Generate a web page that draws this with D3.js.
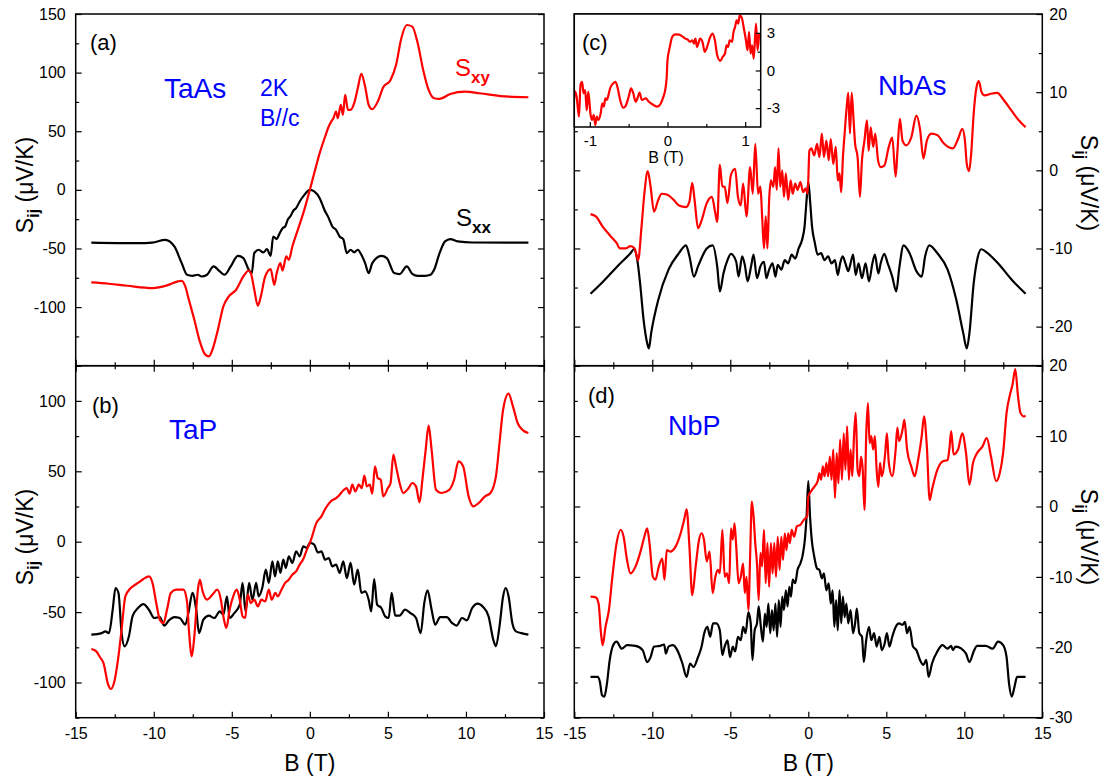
<!DOCTYPE html>
<html lang="en">
<head>
<meta charset="UTF-8" />
<title>Thermoelectric S_ij vs B</title>
<script src="https://cdn.jsdelivr.net/npm/d3@7"></script>
<style>
  body { margin: 0; background: #fff; }
  text { font-family: Arial, "Liberation Sans", sans-serif; }
</style>
</head>
<body>
<script>
// ---- data (B in T, S in uV/K) ----
var taasSxx = [[-14,-45],[-11,-45.5],[-10.1,-45],[-9.26,-42.6],[-8.68,-48.3],[-8.21,-62.5],[-7.87,-72.4],[-7.52,-73.3],[-7.17,-72.4],[-6.94,-73.9],[-6.59,-72.4],[-6.17,-65.3],[-5.77,-69.6],[-5.47,-72.4],[-5.07,-65.3],[-4.61,-56.3],[-4.26,-58.2],[-3.91,-68.2],[-3.72,-71],[-3.56,-54],[-3.28,-51.1],[-2.98,-53.4],[-2.75,-50.6],[-2.51,-56.3],[-2.35,-39.8],[-2.12,-42],[-1.98,-38.4],[-1.75,-32.7],[-1.58,-31.3],[-1.42,-25.6],[-1.23,-22.2],[-1.05,-17.6],[-0.88,-15.6],[-0.65,-9.9],[-0.35,-4.3],[0,0],[0.28,-1.4],[0.63,-7.1],[0.93,-17],[1.21,-24.1],[1.44,-31.3],[1.68,-34.1],[1.91,-39.8],[2.14,-42],[2.37,-54],[2.61,-51.1],[2.84,-53.4],[3.07,-51.1],[3.3,-55.4],[3.54,-62.5],[3.77,-71],[4,-62.5],[4.58,-56.3],[4.93,-58.2],[5.4,-71],[5.75,-71.9],[6.21,-65.3],[6.56,-71.6],[6.91,-73.3],[7.38,-73.3],[7.73,-72.4],[7.96,-68.2],[8.31,-54],[8.66,-44],[9,-42],[9.47,-44],[10.4,-44.9],[14,-45]];
var taasSxy = [[-14,-79],[-12.87,-80.1],[-11.71,-81.8],[-10.08,-83.8],[-9.15,-81.5],[-8.45,-78.1],[-8.21,-77.6],[-7.98,-82.4],[-7.75,-93.8],[-7.4,-110.8],[-7.05,-129.3],[-6.7,-140.6],[-6.47,-142],[-6.24,-136.4],[-5.89,-119.3],[-5.54,-99.4],[-5.19,-90.9],[-4.72,-85.2],[-4.26,-73.9],[-3.91,-68.8],[-3.75,-72.4],[-3.56,-85.2],[-3.33,-98.9],[-3.14,-90.9],[-2.86,-73.9],[-2.51,-67.6],[-2.28,-81],[-2.12,-71],[-1.89,-62.5],[-1.75,-68.8],[-1.51,-56.8],[-1.35,-59.7],[-1.12,-48.3],[-0.77,-34.1],[-0.42,-19.9],[0,0],[0.28,14.2],[0.63,31.3],[0.98,45.5],[1.21,54],[1.37,58.2],[1.51,61.1],[1.68,66.8],[1.79,61.1],[1.98,72.4],[2.12,63.9],[2.26,81],[2.44,68.2],[2.61,68.2],[2.84,73.9],[3.07,86.7],[3.3,98.9],[3.54,88.1],[3.77,72.4],[4,68.8],[4.35,75.3],[4.7,87.5],[5.17,93.8],[5.52,106.5],[5.86,129.3],[6.21,140.6],[6.56,139.2],[6.91,125],[7.26,102.3],[7.61,85.2],[7.96,78.1],[8.31,77.6],[9,81.8],[9.94,83.8],[10.87,82.4],[12.73,79.5],[14,79]];

var tapSxx = [[-14,-66],[-13.33,-64.9],[-13.1,-63.7],[-12.87,-64.9],[-12.63,-48.3],[-12.45,-32.9],[-12.26,-36.4],[-12.06,-64.9],[-11.87,-74.3],[-11.59,-67.2],[-11.36,-53],[-11.01,-47.1],[-10.66,-44.3],[-10.31,-48.3],[-9.96,-54.2],[-9.61,-53.5],[-9.33,-59.6],[-9.03,-55.9],[-8.68,-53.5],[-8.33,-54.2],[-7.98,-58.9],[-7.75,-48.8],[-7.52,-36.4],[-7.28,-48.3],[-7.1,-64.9],[-6.82,-55.4],[-6.47,-52.5],[-6.12,-54.2],[-5.77,-49.5],[-5.54,-51.8],[-5.31,-38.8],[-5.14,-54.2],[-4.84,-50.7],[-4.49,-44.7],[-4.31,-29.3],[-4.12,-49.5],[-3.89,-29.3],[-3.68,-41.2],[-3.44,-29.3],[-3.28,-38.8],[-3.05,-32.9],[-2.82,-19.9],[-2.63,-29.3],[-2.4,-14],[-2.23,-24.6],[-2.05,-14],[-1.89,-22.2],[-1.7,-12.8],[-1.54,-18.7],[-1.35,-10.4],[-1.12,-15.1],[-0.88,-6.9],[-0.65,-10.4],[-0.42,-3.3],[-0.19,-4.5],[0,-0.9],[0.28,-2.1],[0.51,-7.6],[0.74,-6.9],[0.98,-12.8],[1.21,-11.6],[1.44,-17.5],[1.68,-16.3],[1.91,-22.2],[2.14,-14],[2.37,-25.8],[2.61,-15.1],[2.84,-30.5],[3.07,-19.9],[3.3,-36.4],[3.54,-35.3],[3.77,-41.2],[3.93,-49.5],[4.12,-26.5],[4.31,-44.7],[4.58,-47.1],[4.82,-53],[5.05,-54.2],[5.24,-36.4],[5.47,-52.5],[5.75,-52.5],[6.1,-48.3],[6.45,-50.7],[6.8,-54.2],[7.1,-64.9],[7.33,-43.6],[7.54,-34.6],[7.8,-48.3],[8.03,-58.9],[8.35,-53.5],[8.77,-53.5],[9.12,-57.8],[9.4,-59.6],[9.75,-54.2],[10.05,-55.9],[10.4,-47.1],[10.75,-44],[11.1,-46.4],[11.45,-53],[11.75,-69.6],[11.92,-74.3],[12.15,-60.1],[12.38,-38.8],[12.55,-32.9],[12.73,-38.8],[12.97,-57.8],[13.2,-63.7],[13.55,-64.9],[14,-66]];
var tapSxy = [[-14,-76.2],[-13.68,-77.9],[-13.45,-81.9],[-13.22,-86.2],[-12.92,-101.5],[-12.75,-104.6],[-12.52,-99.1],[-12.29,-83.8],[-12.06,-62.5],[-11.82,-38.8],[-11.47,-32.9],[-11.01,-29.3],[-10.66,-26.5],[-10.31,-24.6],[-10.08,-29.3],[-9.84,-43.6],[-9.61,-55.4],[-9.38,-57.8],[-9.15,-48.3],[-8.91,-36.4],[-8.56,-34.1],[-8.1,-34.1],[-7.87,-42.4],[-7.75,-62.5],[-7.56,-81.4],[-7.4,-67.2],[-7.17,-34.1],[-7.05,-27],[-6.87,-35.3],[-6.59,-41.2],[-6.24,-37.6],[-5.93,-34.1],[-5.7,-41.2],[-5.54,-53],[-5.35,-61.3],[-5.14,-48.3],[-4.91,-38.8],[-4.68,-34.1],[-4.49,-41.2],[-4.31,-53],[-4.14,-54.2],[-3.98,-37.6],[-3.79,-43.6],[-3.56,-41.2],[-3.33,-45.9],[-3.1,-41.2],[-2.86,-42.4],[-2.63,-34.1],[-2.44,-41.2],[-2.21,-36.4],[-2.05,-38.8],[-1.82,-34.1],[-1.58,-29.3],[-1.35,-27],[-1.12,-23.4],[-0.88,-21.1],[-0.65,-16.3],[-0.42,-12.3],[-0.19,-5.7],[0,-0.9],[0.16,4.3],[0.4,12.8],[0.74,18],[0.98,23.2],[1.33,28.6],[1.68,31],[1.91,33.4],[2.14,36.4],[2.37,38.1],[2.54,34.1],[2.72,40.5],[2.91,35.7],[3.14,40.5],[3.33,38.1],[3.49,46.9],[3.65,39.3],[3.84,40.5],[4,34.1],[4.17,53.5],[4.35,45.2],[4.54,44],[4.7,32.2],[5,38.1],[5.17,41.7],[5.35,61.8],[5.52,53.5],[5.75,41.7],[5.98,34.6],[6.33,38.1],[6.56,41.7],[6.8,39.3],[7.03,27.9],[7.21,44],[7.42,65.3],[7.61,82.4],[7.8,65.3],[8.08,36.9],[8.42,34.6],[8.89,36.4],[9.24,44],[9.52,57],[9.82,53.5],[10.17,32.2],[10.47,25.1],[10.82,27.5],[11.22,32.2],[11.57,34.6],[11.92,46.4],[12.15,70.1],[12.38,93.7],[12.73,105.1],[13.01,96.1],[13.31,84.3],[13.66,79.1],[14,77.2]];

var nbasSxx = [[-13.96,-15.8],[-13.18,-14.3],[-12.29,-12.4],[-11.4,-10.6],[-11.18,-10.1],[-10.96,-11.5],[-10.78,-14.5],[-10.56,-19.1],[-10.33,-22.1],[-10.22,-22.8],[-10.07,-20.8],[-9.62,-16.6],[-8.96,-12.7],[-8.29,-10.6],[-7.84,-9.6],[-7.62,-11],[-7.33,-13.6],[-7.07,-12.3],[-6.51,-10],[-6.13,-9.6],[-5.84,-12.3],[-5.67,-15.5],[-5.44,-13.2],[-5.18,-11.5],[-4.96,-10.7],[-4.62,-11.7],[-4.47,-13.6],[-4.24,-11],[-4.07,-12.1],[-3.89,-14.2],[-3.67,-12.3],[-3.51,-10.8],[-3.29,-13.8],[-3.07,-12.3],[-2.84,-11.7],[-2.69,-13.8],[-2.51,-12.7],[-2.29,-11.9],[-2.11,-13.6],[-1.96,-12.1],[-1.73,-12.7],[-1.51,-11.5],[-1.29,-11.9],[-1.07,-10.8],[-0.84,-11.3],[-0.62,-10],[-0.4,-8.9],[-0.24,-7.2],[-0.11,-3.8],[0,-1.5],[0.11,-3.8],[0.24,-7.2],[0.42,-9.3],[0.6,-10.8],[0.82,-10.6],[1.04,-11.5],[1.27,-11],[1.49,-11.9],[1.71,-11.5],[1.89,-13.4],[2.04,-11.9],[2.2,-11],[2.38,-11.9],[2.56,-12.9],[2.71,-11.9],[2.87,-10.8],[3.04,-13.4],[3.22,-11.9],[3.44,-13.8],[3.67,-11.9],[3.89,-14.2],[4.11,-11.9],[4.27,-10.8],[4.49,-13.2],[4.64,-11.9],[4.87,-10.7],[5.09,-11.9],[5.38,-13.6],[5.64,-15.5],[5.82,-12.7],[6.11,-9.6],[6.49,-10.6],[6.93,-12.9],[7.27,-13.6],[7.49,-11],[7.76,-9.6],[8.27,-10.6],[8.93,-12.7],[9.49,-16.6],[9.93,-20.8],[10.16,-22.8],[10.33,-20.8],[10.6,-14.5],[10.82,-11.5],[11.09,-10.1],[11.49,-10.6],[12.16,-11.9],[13.04,-14],[13.93,-15.8]];
var nbasSxy = [[-13.96,-5.6],[-13.62,-5.9],[-13.18,-7.2],[-12.73,-8.3],[-12.29,-9.3],[-12.07,-10],[-11.73,-10],[-11.4,-9.7],[-11.13,-10],[-10.91,-11.5],[-10.69,-7.2],[-10.51,-3],[-10.29,-0.1],[-10.11,-2.1],[-9.89,-5.3],[-9.62,-3.8],[-9.4,-3],[-9.07,-3.1],[-8.62,-3.8],[-8.29,-4.5],[-7.84,-4.7],[-7.62,-4],[-7.44,-1.6],[-7.29,-3.8],[-7.07,-7.4],[-6.84,-6.4],[-6.51,-4.2],[-6.18,-3.4],[-5.96,-5.5],[-5.84,-6.6],[-5.67,0.7],[-5.51,-2.1],[-5.36,-2.1],[-5.18,-4.2],[-4.96,-0.6],[-4.69,0.2],[-4.51,-3.4],[-4.33,-4.5],[-4.18,-1.7],[-3.96,-5.9],[-3.73,0.4],[-3.56,-3],[-3.4,3.4],[-3.22,-3],[-3.07,-2.1],[-2.96,-5.9],[-2.84,-10],[-2.73,-5.9],[-2.62,-10],[-2.51,-3.8],[-2.4,-1.3],[-2.24,-2.1],[-2.13,0.4],[-2.02,-2.5],[-1.91,2.8],[-1.8,-2.1],[-1.67,0],[-1.56,-3.4],[-1.44,-0.4],[-1.29,-3.8],[-1.13,-1.3],[-1,-3],[-0.84,-1.7],[-0.69,-2.5],[-0.51,-1.5],[-0.33,-2.8],[-0.18,-2.3],[-0.04,-3],[0.07,2.5],[0.2,2.8],[0.38,1.9],[0.56,3.4],[0.71,1.7],[0.87,4.7],[1,1.7],[1.16,3.8],[1.31,1.3],[1.44,4],[1.6,0.8],[1.76,3],[1.89,-1.3],[2,-0.4],[2.11,-2.8],[2.22,1.7],[2.33,4.7],[2.44,7.6],[2.56,9.9],[2.67,4.7],[2.78,9.9],[2.89,6.8],[3,3.4],[3.16,1.7],[3.31,-3.4],[3.44,1.3],[3.6,3.8],[3.76,6.4],[3.87,2.5],[4,5.5],[4.16,3],[4.29,4.7],[4.47,1.3],[4.64,0.4],[4.87,0.6],[5.16,3],[5.38,4.2],[5.6,-0.8],[5.71,2.3],[5.87,6.6],[6.04,3.8],[6.27,3.2],[6.6,4.2],[6.93,7],[7.16,5.3],[7.38,1.5],[7.6,3.8],[7.89,4.7],[8.27,4.5],[8.71,3.4],[9.27,2.8],[9.6,4],[9.87,5.3],[10.04,3.8],[10.16,0.8],[10.31,-0.1],[10.44,2.1],[10.6,7.2],[10.78,10.6],[10.93,11.4],[11.11,10],[11.31,9.6],[11.71,9.8],[12.11,9.9],[12.49,9.1],[13.04,7.6],[13.49,6.4],[13.93,5.5]];
var nbasInset = [[-1.21,-2.75],[-1.19,-1.69],[-1.17,-2.09],[-1.14,-3.68],[-1.12,-1.16],[-1.1,-0.9],[-1.08,-1.83],[-1.06,-1.56],[-1.04,-3.15],[-1.02,-1.69],[-0.99,-3.54],[-0.97,-3.94],[-0.95,-3.54],[-0.93,-4.34],[-0.91,-3.68],[-0.89,-3.94],[-0.86,-3.41],[-0.84,-2.62],[-0.82,-2.88],[-0.8,-2.22],[-0.78,-2.35],[-0.76,-1.96],[-0.74,-1.43],[-0.7,-1.03],[-0.67,-0.9],[-0.64,-1.43],[-0.61,-2.35],[-0.57,-2.96],[-0.54,-2.83],[-0.5,-2.09],[-0.47,-1.43],[-0.44,-1.83],[-0.41,-2.49],[-0.38,-2.09],[-0.36,-1.77],[-0.33,-2.35],[-0.28,-2.22],[-0.24,-2.49],[-0.18,-2.75],[-0.13,-2.88],[-0.09,-2.67],[-0.06,-2.22],[-0.03,-1.56],[-0.01,-0.5],[0,0.82],[0.03,1.88],[0.06,2.67],[0.1,2.88],[0.15,2.86],[0.19,2.72],[0.23,2.54],[0.26,2.46],[0.29,2.28],[0.32,2.41],[0.34,2.14],[0.36,2.54],[0.38,1.88],[0.42,2.54],[0.45,2.28],[0.48,1.48],[0.51,1.88],[0.55,2.67],[0.58,2.94],[0.61,2.41],[0.64,1.22],[0.68,0.77],[0.71,1.08],[0.74,1.35],[0.76,2.01],[0.78,1.88],[0.8,2.41],[0.83,2.28],[0.85,3.07],[0.87,3.47],[0.89,3.99],[0.91,3.73],[0.93,4.39],[0.96,4.13],[0.98,3.47],[1.01,2.41],[1.03,1.61],[1.05,3.07],[1.07,1.35],[1.09,2.01],[1.11,0.95],[1.14,3.73],[1.16,1.61],[1.18,2.94]];

var nbpSxx = [[-13.96,-24.2],[-13.51,-24.2],[-13.36,-24.9],[-13.22,-26.8],[-13.07,-27],[-12.91,-25.2],[-12.73,-21.8],[-12.51,-19.7],[-12.29,-19.2],[-11.96,-20.2],[-11.62,-19.7],[-11.07,-19.8],[-10.62,-20.4],[-10.33,-22.1],[-10.11,-21.4],[-9.89,-19.9],[-9.51,-19.8],[-9.24,-19.6],[-9.13,-20.9],[-8.96,-19.9],[-8.69,-19.7],[-8.4,-20.4],[-8.07,-22.3],[-7.8,-24.2],[-7.58,-22.3],[-7.36,-22.8],[-7.07,-21.4],[-6.84,-19.9],[-6.67,-18],[-6.47,-17.1],[-6.29,-18.5],[-6.11,-16.6],[-5.89,-16.6],[-5.67,-17.6],[-5.51,-21.1],[-5.36,-19.9],[-5.18,-19],[-5.02,-21.4],[-4.84,-19.9],[-4.69,-20.6],[-4.51,-18.5],[-4.33,-19],[-4.18,-17.1],[-4.02,-18],[-3.84,-15],[-3.69,-16.6],[-3.58,-21.8],[-3.44,-17.6],[-3.29,-16.6],[-3.18,-14.2],[-3.04,-17.1],[-2.91,-19.2],[-2.78,-15.2],[-2.67,-17.1],[-2.56,-13.8],[-2.44,-18],[-2.33,-14.7],[-2.22,-17.6],[-2.11,-13.8],[-2,-18.5],[-1.89,-13.3],[-1.78,-17.1],[-1.67,-12.8],[-1.56,-14.7],[-1.44,-11.9],[-1.33,-14.2],[-1.22,-11.4],[-1.11,-12.8],[-1,-10.4],[-0.84,-10.9],[-0.69,-9],[-0.51,-8.1],[-0.36,-6.9],[-0.22,-4.7],[-0.11,-1.4],[0,3.6],[0.11,-1.4],[0.22,-4.7],[0.38,-7.1],[0.56,-8.8],[0.71,-9],[0.87,-10.2],[1,-9.5],[1.16,-11.9],[1.31,-10.9],[1.44,-13.8],[1.56,-11.9],[1.67,-17.1],[1.78,-13.3],[1.89,-17.6],[2,-11.9],[2.11,-16.6],[2.22,-12.8],[2.33,-15.7],[2.44,-13.8],[2.56,-16.6],[2.71,-14.7],[2.87,-18],[3,-16.6],[3.11,-14.5],[3.27,-18],[3.44,-18.5],[3.56,-22.1],[3.71,-19],[3.89,-17.1],[4.04,-19],[4.22,-18],[4.38,-19.9],[4.56,-18.5],[4.71,-20.4],[4.89,-19.5],[5.04,-18],[5.2,-19.9],[5.38,-18.5],[5.6,-17.1],[5.82,-16.6],[6.04,-16.8],[6.2,-16.4],[6.33,-18],[6.49,-17.1],[6.71,-19.9],[6.93,-20.4],[7.16,-21.8],[7.38,-22.5],[7.56,-21.8],[7.71,-24.2],[7.93,-22.3],[8.27,-20.6],[8.6,-19.7],[8.93,-20.2],[9.16,-19.8],[9.27,-20.4],[9.44,-19.9],[9.82,-20.2],[10.11,-20.9],[10.33,-22.1],[10.6,-20.6],[10.82,-19.8],[11.38,-19.8],[11.82,-20.2],[12.16,-19.2],[12.49,-19.7],[12.71,-21.4],[12.87,-25.2],[13.04,-27],[13.22,-25.6],[13.38,-24.2],[13.93,-24.2]];
var nbpSxy = [[-13.96,-12.8],[-13.62,-12.9],[-13.44,-13.8],[-13.29,-18],[-13.18,-19.7],[-13,-17.1],[-12.78,-14.7],[-12.56,-10],[-12.29,-5.2],[-12.02,-3.3],[-11.84,-4.3],[-11.62,-7.6],[-11.4,-9.5],[-11.07,-8.5],[-10.73,-6.2],[-10.51,-4.3],[-10.33,-3.1],[-10.18,-5.2],[-9.96,-10],[-9.8,-10.4],[-9.58,-8.5],[-9.36,-7.4],[-9.22,-10.4],[-9.07,-6.2],[-8.84,-6.4],[-8.51,-5.7],[-8.18,-3.8],[-7.96,-1.9],[-7.8,-0.4],[-7.62,-5.7],[-7.44,-12.6],[-7.22,-8.5],[-7,-4.7],[-6.84,-3.8],[-6.69,-4.7],[-6.51,-7.8],[-6.33,-6.4],[-6.13,-12.3],[-5.96,-10],[-5.8,-9],[-5.67,-9.5],[-5.51,-3.3],[-5.36,-10],[-5.22,-9.5],[-5.07,-10.9],[-4.96,-3.1],[-4.84,-4.7],[-4.73,-2.4],[-4.62,-5.7],[-4.47,-10.9],[-4.33,-10],[-4.18,-8.1],[-4.07,-12.3],[-3.96,-10],[-3.84,-14.7],[-3.73,-7.1],[-3.62,0.7],[-3.51,-1.4],[-3.4,-5.2],[-3.29,-8.1],[-3.18,-13.3],[-3.07,-6.6],[-2.96,-8.5],[-2.84,-3.3],[-2.73,-10.9],[-2.62,-5.2],[-2.51,-11.4],[-2.4,-5.2],[-2.29,-9.5],[-2.18,-5.2],[-2.07,-10],[-1.96,-4.3],[-1.84,-9],[-1.73,-4.3],[-1.62,-7.6],[-1.51,-3.8],[-1.4,-6.2],[-1.29,-3.8],[-1.18,-5.2],[-1.07,-3.3],[-0.91,-4.3],[-0.73,-2.8],[-0.51,-2.6],[-0.29,-1.9],[-0.07,-1.4],[0,1.4],[0.16,2.1],[0.38,2.8],[0.6,3.6],[0.71,4.7],[0.82,3.8],[0.93,5.7],[1.04,4.3],[1.16,6.2],[1.27,4.3],[1.38,7.1],[1.49,3.8],[1.6,8.1],[1.71,1.2],[1.82,7.6],[1.93,3.3],[2.04,9.5],[2.16,3.8],[2.27,10.4],[2.38,5.2],[2.49,11.4],[2.6,3.8],[2.71,8.1],[2.82,4.3],[2.93,10],[3.04,13.3],[3.16,5.2],[3.27,4.3],[3.38,7.1],[3.49,5.2],[3.6,-0.5],[3.71,10],[3.82,14.7],[3.93,9],[4.04,10],[4.16,8.1],[4.27,10],[4.38,5.2],[4.49,2.8],[4.6,6.2],[4.71,4.3],[4.93,7.6],[5.04,10.4],[5.16,6.2],[5.38,4.3],[5.6,8.1],[5.71,11.2],[5.82,9.3],[6.04,10.9],[6.16,12.3],[6.33,8.1],[6.6,5.7],[6.82,4.3],[7.04,6.6],[7.27,10],[7.42,12.8],[7.6,8.5],[7.78,0.9],[7.93,2.4],[8.27,5.2],[8.6,6.4],[8.93,6.6],[9.04,8.1],[9.16,10.7],[9.31,7.4],[9.6,8.1],[9.87,10.4],[10.11,7.6],[10.33,3.1],[10.56,6.2],[10.82,7.6],[11.16,8.5],[11.44,9.7],[11.71,7.1],[12.04,3.6],[12.27,4.7],[12.49,7.6],[12.71,13.3],[12.93,15.9],[13.09,17.3],[13.27,19.5],[13.44,15.7],[13.6,13.3],[13.82,12.8],[13.93,12.9]];

// ---- tick values ----
var xTicks = [-15, -10, -5, 0, 5, 10, 15];
var insetXTicks = [-1, 0, 1];
var insetYTicks = [-3, 0, 3];
var yTicksA = [-100, -50, 0, 50, 100, 150];
var yTicksB = [-100, -50, 0, 50, 100];
var yTicksC = [-20, -10, 0, 10, 20];
var yTicksD = [-30, -20, -10, 0, 10, 20];

var RED = "#ff0000", BLUE = "#0000ff";
var W = 1105, H = 779;
var svg = d3.select("body").append("svg").attr("width", W).attr("height", H);

var TOP = 14, MID = 365.7, BOT = 717.7;
var LX = [75.7, 544], RX = [574.3, 1042.3];

// plain hyphen labels, like the original
var plain = function(d) { return String(d); };

var clipN = 0;
function drawCurve(g, data, x, y, color, box) {
  var id = "clip" + (clipN++);
  svg.append("clipPath").attr("id", id).append("rect")
    .attr("x", box[0]).attr("y", box[1]).attr("width", box[2]).attr("height", box[3]);
  g.append("path").datum(data)
    .attr("clip-path", "url(#" + id + ")")
    .attr("fill", "none").attr("stroke", color).attr("stroke-width", 2.2)
    .attr("stroke-linejoin", "round")
    .attr("d", d3.line().x(function(d) { return x(d[0]); }).y(function(d) { return y(d[1]); }).curve(d3.curveMonotoneX));
}

function tickAxis(g, axisFn, scale, vals, size, labels, pad, transform) {
  var ax = axisFn(scale).tickValues(vals).tickSizeInner(size).tickSizeOuter(0).tickPadding(pad);
  ax.tickFormat(labels ? plain : "");
  var a = g.append("g").attr("transform", transform).call(ax);
  a.select(".domain").remove();
  a.selectAll("line").attr("stroke", "#000").attr("stroke-width", 1.2);
  a.selectAll("text").attr("fill", "#000").style("font-size", "16px")
    .style("font-family", "Arial, 'Liberation Sans', sans-serif");
  return a;
}

function panel(p) {
  var x = d3.scaleLinear().domain([-15, 15]).range(p.xr);
  var y = d3.scaleLinear().domain(p.yd).range([p.yr[1], p.yr[0]]);
  var g = svg.append("g");
  var box = [p.xr[0], p.yr[0], p.xr[1] - p.xr[0], p.yr[1] - p.yr[0]];
  drawCurve(g, p.black, x, y, "#000", box);
  drawCurve(g, p.red, x, y, RED, box);

  var minorX = d3.range(-15, 15.01, 2.5).filter(function(v) { return v % 5 !== 0; });
  var yMinor = d3.range(p.yd[0], p.yd[1] + 0.01, p.ystep / 2).filter(function(v) { return p.yMajor.indexOf(v) < 0 && v % p.ystep !== 0; });
  var yMajAll = d3.range(p.yd[0], p.yd[1] + 0.01, p.ystep / 2).filter(function(v) { return v % p.ystep === 0; });

  // bottom ticks (pointing up)
  tickAxis(g, d3.axisBottom, x, xTicks, -6, p.xlabels, 10, "translate(0," + p.yr[1] + ")");
  tickAxis(g, d3.axisBottom, x, minorX, -3.5, false, 0, "translate(0," + p.yr[1] + ")");
  if (p.topTicks) {
    tickAxis(g, d3.axisTop, x, xTicks, -6, false, 0, "translate(0," + p.yr[0] + ")");
    tickAxis(g, d3.axisTop, x, minorX, -3.5, false, 0, "translate(0," + p.yr[0] + ")");
  }
  // left and right ticks, both pointing inward
  tickAxis(g, d3.axisLeft, y, yMajAll, -6, false, 0, "translate(" + p.xr[0] + ",0)");
  tickAxis(g, d3.axisLeft, y, yMinor, -3.5, false, 0, "translate(" + p.xr[0] + ",0)");
  tickAxis(g, d3.axisRight, y, yMajAll, -6, false, 0, "translate(" + p.xr[1] + ",0)");
  tickAxis(g, d3.axisRight, y, yMinor, -3.5, false, 0, "translate(" + p.xr[1] + ",0)");
  if (p.side === "left") tickAxis(g, d3.axisLeft, y, p.yMajor, 0, true, 10, "translate(" + p.xr[0] + ",0)").selectAll("line").remove();
  if (p.side === "right") tickAxis(g, d3.axisRight, y, p.yMajor, 0, true, 7, "translate(" + p.xr[1] + ",0)").selectAll("line").remove();

  g.append("rect").attr("x", box[0]).attr("y", box[1]).attr("width", box[2]).attr("height", box[3])
    .attr("fill", "none").attr("stroke", "#000").attr("stroke-width", 1.5);
  return g;
}

function label(txt, xp, yp, size, color) {
  return svg.append("text").attr("x", xp).attr("y", yp).attr("fill", color || "#000")
    .style("font-size", size + "px").text(txt);
}

function sLabel(sub, xp, yp, color) {
  var t = svg.append("text").attr("x", xp).attr("y", yp).attr("fill", color).style("font-size", "24px");
  t.append("tspan").text("S");
  t.append("tspan").attr("dy", 7).style("font-size", "17px").style("font-weight", "bold").text(sub);
}

function yTitle(xp, yp, rot) {
  var t = svg.append("text").attr("transform", "translate(" + xp + "," + yp + ") rotate(" + rot + ")")
    .attr("text-anchor", "middle").style("font-size", "23px").attr("fill", "#000");
  t.append("tspan").text("S");
  t.append("tspan").attr("dy", 6).style("font-size", "16px").style("font-weight", "bold").text("ij");
  t.append("tspan").attr("dy", -6).text(" (\u03bcV/K)");
}

// (a) TaAs
panel({ xr: LX, yr: [TOP, MID], yd: [-150, 150], ystep: 50, yMajor: yTicksA, black: taasSxx, red: taasSxy, side: "left", xlabels: false });
// (b) TaP
panel({ xr: LX, yr: [MID, BOT], yd: [-125, 125], ystep: 50, yMajor: yTicksB, black: tapSxx, red: tapSxy, side: "left", xlabels: true, topTicks: true });
// (c) NbAs
panel({ xr: RX, yr: [TOP, MID], yd: [-25, 20], ystep: 10, yMajor: yTicksC, black: nbasSxx, red: nbasSxy, side: "right", xlabels: false });
// (d) NbP
panel({ xr: RX, yr: [MID, BOT], yd: [-30, 20], ystep: 10, yMajor: yTicksD, black: nbpSxx, red: nbpSxy, side: "right", xlabels: true, topTicks: true });

// inset in (c)
(function() {
  var ix = d3.scaleLinear().domain([-1.2, 1.2]).range([574.3, 760.7]);
  var iy = d3.scaleLinear().domain([-4.5, 4.5]).range([127, 14]);
  var g = svg.append("g");
  g.append("rect").attr("x", 574.3).attr("y", 14).attr("width", 186.4).attr("height", 113).attr("fill", "#fff");
  drawCurve(g, nbasInset, ix, iy, RED, [574.3, 14, 186.4, 113]);
  tickAxis(g, d3.axisBottom, ix, insetXTicks, -5, true, 8, "translate(0,127)").selectAll("text").style("font-size", "15px");
  tickAxis(g, d3.axisBottom, ix, [-0.5, 0.5], -3, false, 0, "translate(0,127)");
  tickAxis(g, d3.axisRight, iy, insetYTicks, -5, true, 6, "translate(760.7,0)").selectAll("text").style("font-size", "15px");
  tickAxis(g, d3.axisRight, iy, [-1.5, 1.5], -3, false, 0, "translate(760.7,0)");
  g.append("rect").attr("x", 574.3).attr("y", 14).attr("width", 186.4).attr("height", 113)
    .attr("fill", "none").attr("stroke", "#000").attr("stroke-width", 1.5);
  svg.append("text").attr("x", 666).attr("y", 163).attr("text-anchor", "middle").style("font-size", "16px").text("B (T)");
})();

// panel letters and sample names
label("(a)", 90, 50, 22);
label("(b)", 92, 413, 22);
label("(c)", 582, 50, 22);
label("(d)", 588, 403, 22);
label("TaAs", 164, 98, 28, BLUE);
label("2K", 260, 96, 23, BLUE);
label("B//c", 260, 126, 23, BLUE);
label("TaP", 169, 439, 28, BLUE);
label("NbAs", 878, 95, 28, BLUE);
label("NbP", 668, 435, 27, BLUE);
sLabel("xy", 455, 76, RED);
sLabel("xx", 456, 226, "#000");

// axis titles
yTitle(33, 185, -90);
yTitle(33, 537, -90);
yTitle(1081, 183, 90);
yTitle(1081, 537, 90);
svg.append("text").attr("x", (LX[0] + LX[1]) / 2).attr("y", 771).attr("text-anchor", "middle").style("font-size", "23px").text("B (T)");
svg.append("text").attr("x", (RX[0] + RX[1]) / 2).attr("y", 771).attr("text-anchor", "middle").style("font-size", "23px").text("B (T)");
</script>
</body>
</html>
